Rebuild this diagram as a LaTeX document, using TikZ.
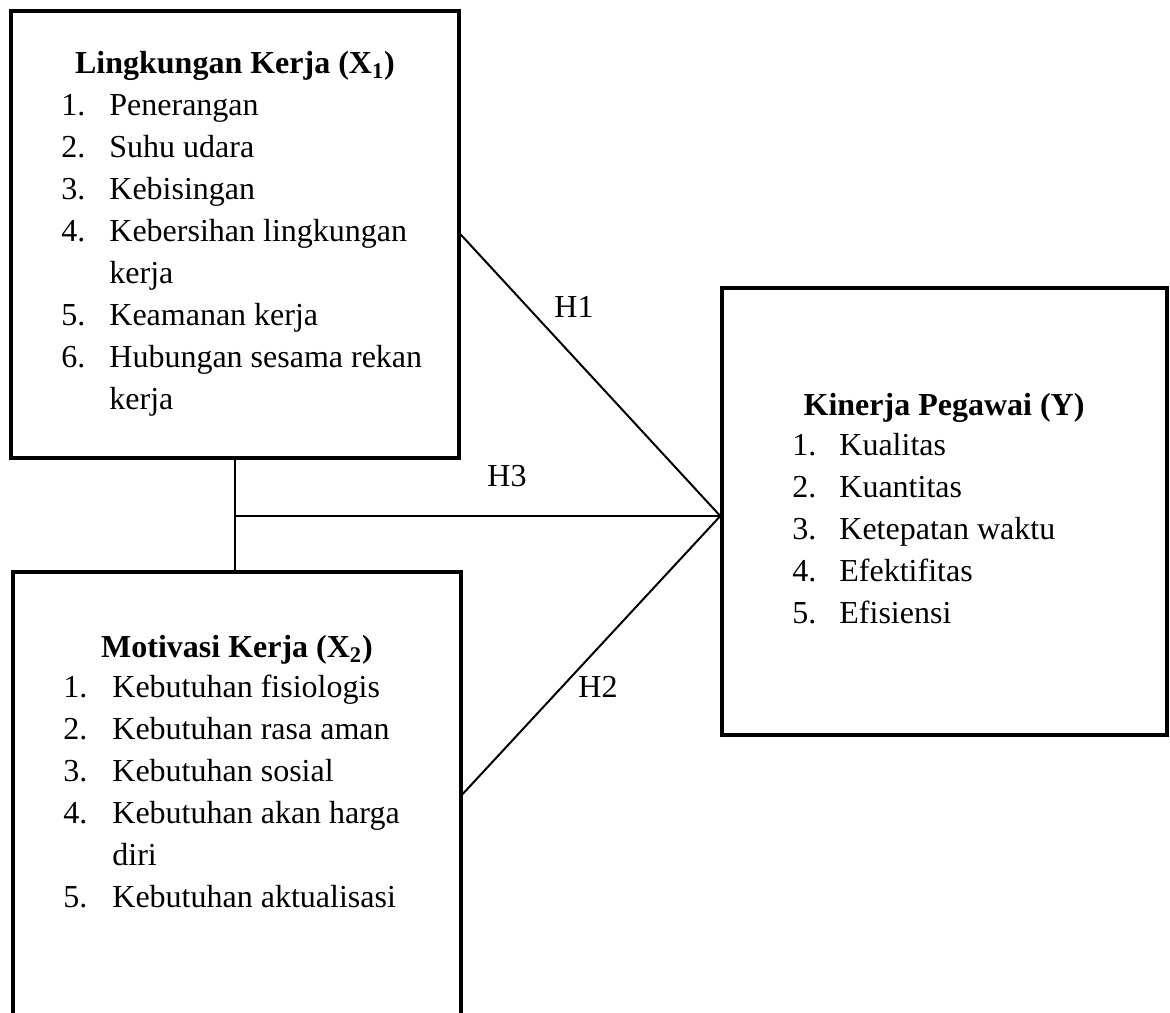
\documentclass[tikz,border=0pt]{standalone}
\usepackage{fontspec}
\setmainfont{Liberation Serif}
\usetikzlibrary{calc}

\begin{document}
\begin{tikzpicture}[x=0.5pt, y=-0.5pt, font=\fontsize{16}{21}\selectfont,
    box/.style={draw, line width=1.7pt, inner sep=0pt, minimum width=224pt},
    link/.style={line width=1pt},
    title/.style={anchor=base, font=\fontsize{16}{21}\selectfont\bfseries},
    item/.style={anchor=base west, inner sep=0pt},
    hyp/.style={anchor=base, inner sep=0pt}]
  \useasboundingbox (0,0) rectangle (1170,1012);

  % variable boxes
  \node[box, minimum height=223.5pt] (x1) at (235,234.5) {};
  \node[box, minimum height=222pt] (x2) at (237,794) {};
  \node[box, minimum width=222.5pt, minimum height=223.5pt] (y) at (944.5,511.5) {};

  % X1
  \node[title] (x1title) at (235,73) {Lingkungan Kerja (X\textsubscript{1})};
  \foreach \num/\txt [count=\i from 0] in {1./Penerangan, 2./Suhu udara, 3./Kebisingan,
      4./Kebersihan lingkungan, /kerja, 5./Keamanan kerja, 6./Hubungan sesama rekan, /kerja}{
    \node[item] (x1n\i) at (61,115+42*\i) {\num};
    \node[item] (x1t\i) at (109,115+42*\i) {\txt};
  }

  % X2
  \node[title] (x2title) at (237,657) {Motivasi Kerja (X\textsubscript{2})};
  \foreach \num/\txt [count=\i from 0] in {1./Kebutuhan fisiologis, 2./Kebutuhan rasa aman,
      3./Kebutuhan sosial, 4./Kebutuhan akan harga, /diri, 5./Kebutuhan aktualisasi}{
    \node[item] (x2n\i) at (63,697+42*\i) {\num};
    \node[item] (x2t\i) at (112,697+42*\i) {\txt};
  }

  % Y
  \node[title] (ytitle) at (944,415) {Kinerja Pegawai (Y)};
  \foreach \num/\txt [count=\i from 0] in {1./Kualitas, 2./Kuantitas, 3./Ketepatan waktu,
      4./Efektifitas, 5./Efisiensi}{
    \node[item] (yn\i) at (792,455+42*\i) {\num};
    \node[item] (yt\i) at (839,455+42*\i) {\txt};
  }

  % connectors
  \coordinate (hub) at ([yshift=-2.25pt]y.west);
  \coordinate (split) at (x1.south |- hub);
  \draw[link] (x1.east) -- (hub);
  \draw[link] (x2.east) -- (hub);
  \draw[link] (x1.south) -- (x1.south |- x2.north);
  \draw[link] (split) -- (hub);

  \node[hyp] (h1) at (574,317) {H1};
  \node[hyp] (h3) at (507,486) {H3};
  \node[hyp] (h2) at (598,697) {H2};
\end{tikzpicture}
\end{document}
